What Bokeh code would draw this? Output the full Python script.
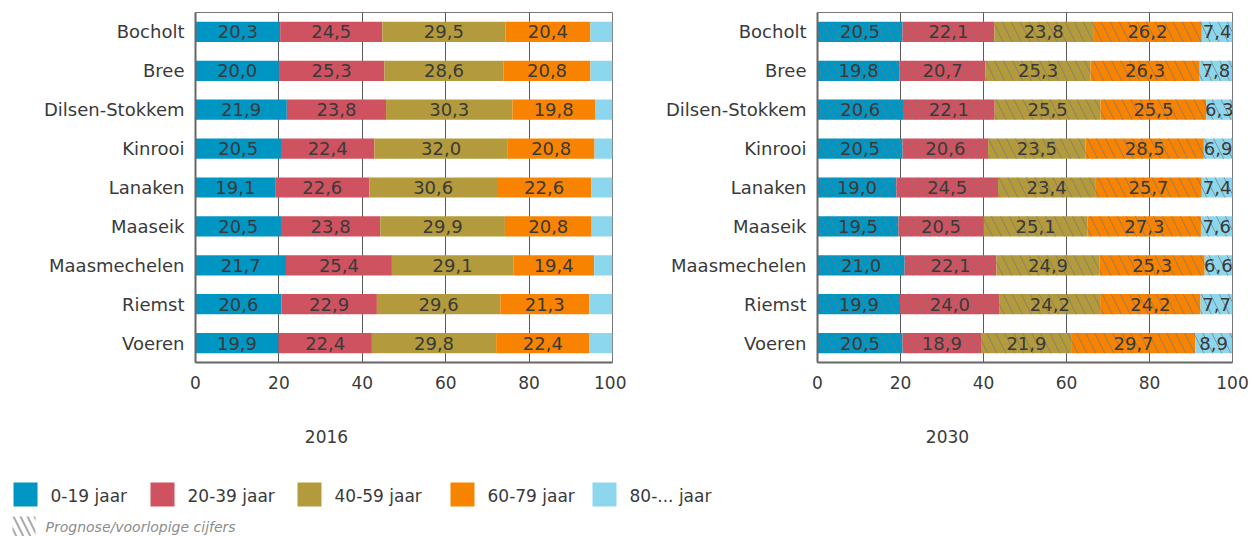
import numpy as np
from bokeh.plotting import figure
from bokeh.models import ColumnDataSource, Range1d, FactorRange, FixedTicker
from bokeh.layouts import column, row
from bokeh.embed import file_html
from bokeh.resources import INLINE
from bokeh.core.properties import value

# ---------------- data ----------------
gemeenten = ["Bocholt", "Bree", "Dilsen-Stokkem", "Kinrooi", "Lanaken",
             "Maaseik", "Maasmechelen", "Riemst", "Voeren"]
leeftijden = ["0-19 jaar", "20-39 jaar", "40-59 jaar", "60-79 jaar", "80-... jaar"]
kleuren = ["#0096C4", "#CF5260", "#B39A3C", "#F88300", "#8DD7EE"]
x_ticks = [0, 20, 40, 60, 80, 100]
jaren = ["2016", "2030"]

j2016_0_19 = [20.3, 20.0, 21.9, 20.5, 19.1, 20.5, 21.7, 20.6, 19.9]
j2016_20_39 = [24.5, 25.3, 23.8, 22.4, 22.6, 23.8, 25.4, 22.9, 22.4]
j2016_40_59 = [29.5, 28.6, 30.3, 32.0, 30.6, 29.9, 29.1, 29.6, 29.8]
j2016_60_79 = [20.4, 20.8, 19.8, 20.8, 22.6, 20.8, 19.4, 21.3, 22.4]
j2016_80 = [5.3, 5.3, 4.2, 4.3, 5.1, 5.0, 4.4, 5.6, 5.5]

j2030_0_19 = [20.5, 19.8, 20.6, 20.5, 19.0, 19.5, 21.0, 19.9, 20.5]
j2030_20_39 = [22.1, 20.7, 22.1, 20.6, 24.5, 20.5, 22.1, 24.0, 18.9]
j2030_40_59 = [23.8, 25.3, 25.5, 23.5, 23.4, 25.1, 24.9, 24.2, 21.9]
j2030_60_79 = [26.2, 26.3, 25.5, 28.5, 25.7, 27.3, 25.3, 24.2, 29.7]
j2030_80 = [7.4, 7.8, 6.3, 6.9, 7.4, 7.6, 6.6, 7.7, 8.9]

FONT = "DejaVu Sans"
TXT = "#3a3a3a"
keys = ["s0", "s1", "s2", "s3", "s4"]


def panel(series, hatched, b_left, f_width, b_right, label_last):
    data = {"g": gemeenten}
    for k, vals in zip(keys, series):
        data[k] = vals
    src = ColumnDataSource(data)
    p = figure(y_range=FactorRange(*gemeenten[::-1]), x_range=Range1d(0, 100),
               frame_width=f_width, frame_height=350,
               min_border_left=b_left, min_border_right=b_right,
               min_border_top=12, min_border_bottom=38,
               output_backend="svg", toolbar_location=None)
    kw = {}
    if hatched:
        kw = dict(hatch_pattern="\\", hatch_color="#777777", hatch_alpha=0.7,
                  hatch_scale=18, hatch_weight=1)
    p.hbar_stack(keys, y="g", height=0.52, color=kleuren, source=src,
                 line_width=0, **kw)

    arr = np.array(series, dtype=float)
    left = np.cumsum(arr, axis=0) - arr
    mids = left + arr / 2
    lx, ly, lt = [], [], []
    n = len(series) if label_last else len(series) - 1
    for i in range(n):
        for j, g in enumerate(gemeenten):
            lx.append(mids[i, j])
            ly.append(g)
            lt.append(f"{arr[i, j]:.1f}".replace(".", ","))
    p.text(x="x", y="y", text="t",
           source=ColumnDataSource(dict(x=lx, y=ly, t=lt)),
           text_align="center", text_baseline="middle",
           text_font=value(FONT), text_font_size="18px", text_color=TXT)

    p.xaxis.ticker = FixedTicker(ticks=x_ticks)
    p.xgrid.ticker = FixedTicker(ticks=x_ticks)
    p.xgrid.grid_line_color = "#5a5a5a"
    p.ygrid.grid_line_color = None
    p.outline_line_color = "#777777"
    p.outline_line_width = 1
    p.axis.axis_line_color = "#666666"
    p.axis.axis_line_width = 2
    p.axis.major_tick_line_color = None
    p.axis.minor_tick_line_color = None
    p.axis.major_label_text_font = FONT
    p.axis.major_label_text_font_size = "18px"
    p.axis.major_label_text_color = TXT
    p.xaxis.major_label_text_font_size = "17px"
    p.xaxis.major_label_standoff = 7
    p.yaxis.major_label_standoff = 5
    return p


p1 = panel([j2016_0_19, j2016_20_39, j2016_40_59, j2016_60_79, j2016_80],
           False, 195, 417, 14, False)
p2 = panel([j2030_0_19, j2030_20_39, j2030_40_59, j2030_60_79, j2030_80],
           True, 191, 415, 20, True)

# ------------- bottom: years + legend -------------
p3 = figure(width=1252, height=136, x_range=Range1d(0, 1252), y_range=Range1d(536, 400),
            x_axis_type=None, y_axis_type=None, min_border=0,
            output_backend="svg", toolbar_location=None)
p3.outline_line_color = None
p3.grid.visible = False

p3.text(x=[326, 947], y=[436, 436], text=jaren, text_align="center",
        text_baseline="middle", text_font=value(FONT), text_font_size="17px",
        text_color=TXT)

sq_left = [13, 150, 297, 450, 592]
p3.quad(left=sq_left, right=[v + 24 for v in sq_left], top=[482] * 5,
        bottom=[506] * 5, fill_color=kleuren, line_color=None)
p3.text(x=[v + 37 for v in sq_left], y=[495] * 5, text=leeftijden,
        text_align="left", text_baseline="middle", text_font=value(FONT),
        text_font_size="17px", text_color=TXT)

p3.quad(left=[12], right=[35], top=[516], bottom=[536], fill_alpha=0,
        line_color=None, hatch_pattern="\\", hatch_color="#aaaaaa",
        hatch_scale=14, hatch_weight=2)
p3.text(x=[45], y=[526], text=["Prognose/voorlopige cijfers"], text_align="left",
        text_baseline="middle", text_font=value(FONT), text_font_size="14px",
        text_font_style="italic", text_color="#8c8c8c")

layout = column(row(p1, p2), p3)
open("out.html", "w").write(file_html(layout, INLINE))
